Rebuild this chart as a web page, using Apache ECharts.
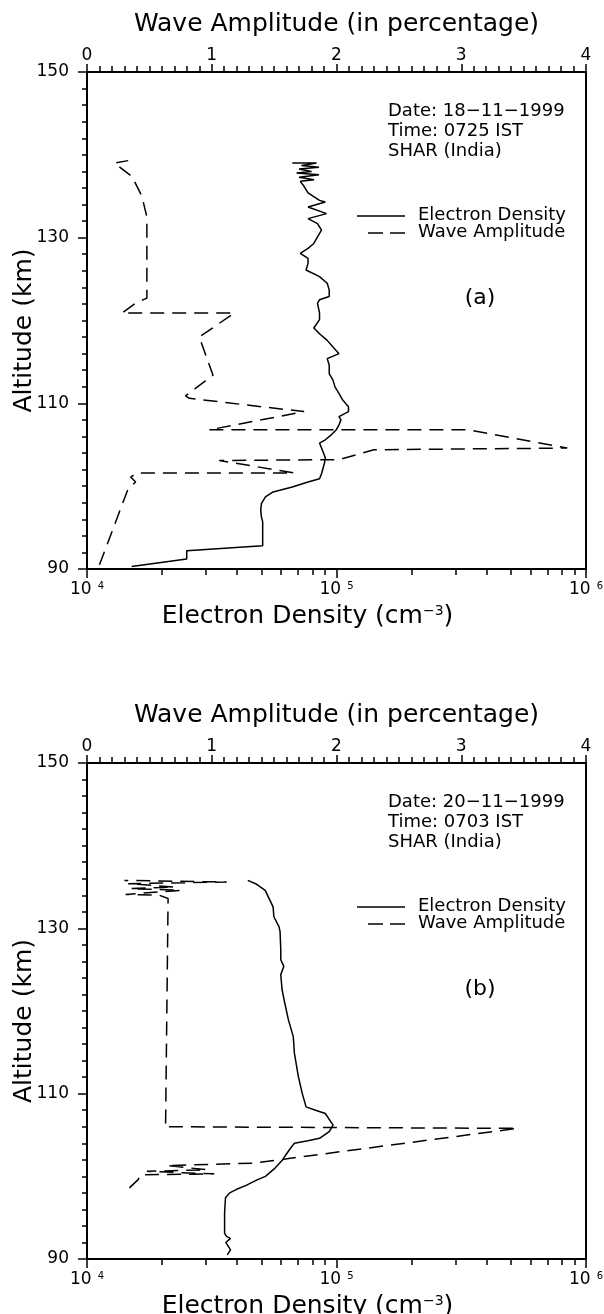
<!DOCTYPE html>
<html>
<head>
<meta charset="utf-8">
<script src="https://cdn.jsdelivr.net/npm/echarts@6/dist/echarts.min.js"></script>
<style>
  html, body { margin: 0; padding: 0; background: #fff; }
  #chart { width: 604px; height: 1314px; }
</style>
</head>
<body>
<div id="chart"></div>
<script>
// ---- Rocket profile (a): 18-11-1999, 0725 IST ----
// electron density, cm^-3, against altitude in km
const densityAltA = [90.3, 91.2, 92.2, 92.8, 95.7, 96.3, 97.1, 97.9, 98.7, 99.3, 99.9, 100.5, 100.9, 101.5, 102.8,
  103.4, 104.0, 104.6, 105.2, 105.6, 106.2, 106.8, 107.4, 108.0, 108.4, 109.0, 109.6, 110.4, 111.2, 112.0,
  112.8, 113.6, 114.6, 115.4, 116.0, 116.8, 117.6, 118.4, 119.1, 120.1, 120.9, 122.1, 122.5, 122.9, 123.7,
  124.5, 125.3, 126.1, 126.9, 127.5, 128.1, 128.7, 129.3, 130.1, 130.9, 131.7, 132.3, 132.9, 133.7, 134.3,
  134.5, 135.4, 136.2, 136.8, 137.0, 137.3, 137.6, 137.8, 138.0, 138.3, 138.5, 138.7, 139.0, 139.0];
const densityA = [15100, 25100, 25100, 50600, 50600, 50000, 49700, 50000, 51900, 55700, 66500, 76900, 85500, 87100, 89500,
  90200, 88700, 87100, 85500, 90200, 95300, 99800, 102300, 104200, 102300, 111700, 111700, 105900, 102300, 98600,
  96800, 93500, 93500, 91800, 102300, 96800, 91800, 85500, 81100, 85500, 85500, 83900, 85500, 93500, 93500,
  91800, 85500, 75500, 76900, 76900, 71600, 76900, 81100, 83900, 87100, 83900, 76900, 91200, 76900, 90200,
  85500, 76900, 74100, 71600, 81300, 70800, 85100, 69200, 79400, 70800, 85100, 72400, 83200, 66500];
// wave amplitude, percent, against altitude in km
const waveAltA = [90.5, 99.7, 100.5, 101.1, 101.6, 101.6, 103.1, 103.2, 104.4, 104.6, 106.8, 106.8, 109.0,
  110.6, 110.9, 113.4, 118.0, 120.9, 120.9, 122.1, 122.7, 132.5, 135.0, 137.4, 139.0, 139.3];
const waveA = [0.10, 0.33, 0.39, 0.35, 0.40, 1.66, 1.06, 2.02, 2.30, 3.85, 3.06, 0.98, 1.74,
  0.82, 0.79, 1.01, 0.90, 1.18, 0.28, 0.39, 0.48, 0.48, 0.44, 0.36, 0.22, 0.33];

// ---- Rocket profile (b): 20-11-1999, 0703 IST ----
const densityAltB = [90.5, 91.1, 92.0, 92.5, 92.7, 93.1, 95.6, 97.4, 98.0, 98.4, 98.9, 99.6, 100.0, 101.0, 102.0,
  102.4, 103.4, 104.0, 104.3, 104.6, 105.4, 106.2, 107.6, 108.0, 108.4, 110.1, 112.1, 114.9, 116.9, 118.9,
  121.0, 122.6, 124.4, 125.4, 126.2, 127.4, 129.6, 130.2, 131.4, 132.6, 133.6, 134.6, 135.4, 135.8];
const densityB = [36500, 37600, 36000, 37600, 36300, 35600, 35600, 35900, 37300, 39600, 43400, 48300, 51900, 56700, 60900,
  62000, 65400, 67800, 76800, 85500, 93500, 96900, 90200, 82400, 75500, 72800, 70300, 67800, 67100, 64200,
  62000, 60500, 59800, 61500, 59800, 59800, 59400, 58800, 56100, 55700, 53700, 51800, 47400, 44100];
const waveAltB = [98.6, 99.6, 100.2, 100.3, 100.6, 100.8, 101.3, 101.6, 105.8, 106.0, 106.3, 133.6, 134.0,
  134.1, 134.6, 134.8, 135.0, 135.4, 135.6, 135.8];
const waveB = [0.34, 0.41, 0.43, 1.02, 0.48, 0.96, 0.64, 1.34, 3.45, 0.62, 0.63, 0.65, 0.58,
  0.31, 0.75, 0.35, 0.70, 0.33, 1.12, 0.30];

// ---- axis ticks and labels ----
const densityTickValues = [1e4, 1e5, 1e6];
const densityTickExponents = ['4', '5', '6'];
const densityMinorTicks = [2e4, 3e4, 4e4, 5e4, 6e4, 7e4, 8e4, 9e4, 2e5, 3e5, 4e5, 5e5, 6e5, 7e5, 8e5, 9e5];
const amplitudeTicks = ['0', '1', '2', '3', '4'];
const altitudeTicks = ['90', '110', '130', '150'];

// ---- panel texts ----
const seriesNames = ['Electron Density', 'Wave Amplitude'];
const infoA = ['Date: 18\u221211\u22121999', 'Time: 0725 IST', 'SHAR (India)'];
const infoB = ['Date: 20\u221211\u22121999', 'Time: 0703 IST', 'SHAR (India)'];
const panelTags = ['(a)', '(b)'];

const FONT = 'DejaVu Sans';
const INK = '#000';

function zip(xs, ys) { return xs.map((x, i) => [x, ys[i]]); }

// layout of the two stacked panels
const panels = [
  { top: 72, height: 497, density: zip(densityA, densityAltA), wave: zip(waveA, waveAltA), info: infoA, tag: panelTags[0] },
  { top: 763, height: 496, density: zip(densityB, densityAltB), wave: zip(waveB, waveAltB), info: infoB, tag: panelTags[1] }
];
const LEFT = 87, WIDTH = 499;

const grid = [], xAxis = [], yAxis = [], series = [], graphic = [];

panels.forEach((p, gi) => {
  grid.push({ left: LEFT, top: p.top, width: WIDTH, height: p.height, show: true,
    outerBoundsMode: 'none', containLabel: false,
    borderColor: INK, borderWidth: 2, backgroundColor: 'transparent' });

  // bottom: logarithmic electron density axis; short ticks at 2..9 of each decade
  xAxis.push({
    type: 'log', logBase: 10, gridIndex: gi, position: 'bottom', min: 1e4, max: 1e6,
    name: '{t|Electron Density (cm}{u|\u22123}{t|)}', nameLocation: 'middle', nameGap: 35,
    nameMoveOverlap: false,
    nameTextStyle: { padding: [0, 58, 0, 0], rich: {
      t: { fontFamily: FONT, fontSize: 25, color: INK },
      u: { fontFamily: FONT, fontSize: 14, color: INK, verticalAlign: 'top', padding: [0, 0, 10, 0] } } },
    axisLine: { show: true, lineStyle: { color: INK, width: 2 } },
    axisTick: { show: true, length: 6, lineStyle: { color: INK, width: 1.5 },
      customValues: densityTickValues.concat(densityMinorTicks) },
    axisLabel: { show: true, margin: 12, customValues: densityTickValues,
      formatter: v => {
        const e = densityTickExponents[Math.round(Math.log10(v)) - 4];
        return '{b|10}{s|' + e + '}';
      },
      rich: {
        b: { fontFamily: FONT, fontSize: 17, color: INK },
        s: { fontFamily: FONT, fontSize: 10, color: INK, verticalAlign: 'top', padding: [0, 0, 6, 6] }
      } },
    splitLine: { show: false }
  });
  // companion axis counted in decades, carrying the longer decade ticks
  xAxis.push({
    type: 'value', gridIndex: gi, position: 'bottom', min: 4, max: 6, interval: 1,
    axisLine: { show: true, lineStyle: { color: INK, width: 2 } },
    axisTick: { show: true, length: 9, lineStyle: { color: INK, width: 1.5 } },
    axisLabel: { show: false }, splitLine: { show: false }
  });
  // top: linear wave amplitude axis
  xAxis.push({
    type: 'value', gridIndex: gi, position: 'top', min: 0, max: 4, interval: 1,
    name: 'Wave Amplitude (in percentage)', nameLocation: 'middle', nameGap: 35, nameMoveOverlap: false,
    nameTextStyle: { fontFamily: FONT, fontSize: 25, color: INK },
    axisLine: { show: true, lineStyle: { color: INK, width: 2 } },
    axisTick: { show: true, length: 8, lineStyle: { color: INK, width: 1.5 } },
    minorTick: { show: true, splitNumber: 10, length: 6, lineStyle: { color: INK, width: 1.5 } },
    axisLabel: { margin: 8, fontFamily: FONT, fontSize: 17, color: INK,
      formatter: v => amplitudeTicks[Math.round(v)] },
    splitLine: { show: false }, minorSplitLine: { show: false }
  });
  // left: altitude
  yAxis.push({
    type: 'value', gridIndex: gi, min: 90, max: 150, interval: 20,
    name: 'Altitude (km)', nameLocation: 'middle', nameGap: 50, nameRotate: 90, nameMoveOverlap: false,
    nameTextStyle: { fontFamily: FONT, fontSize: 25, color: INK, padding: [0, 20, 0, 0] },
    axisLine: { show: true, onZero: false, lineStyle: { color: INK, width: 2 } },
    axisTick: { show: true, length: 9, lineStyle: { color: INK, width: 1.5 } },
    minorTick: { show: true, splitNumber: 10, length: 5, lineStyle: { color: INK, width: 1.5 } },
    axisLabel: { margin: 18, fontFamily: FONT, fontSize: 17, color: INK,
      formatter: v => altitudeTicks[Math.round((v - 90) / 20)] },
    splitLine: { show: false }, minorSplitLine: { show: false }
  });

  series.push({
    name: seriesNames[0], type: 'line', xAxisIndex: gi * 3, yAxisIndex: gi,
    data: p.density, showSymbol: false, symbol: 'none',
    lineStyle: { color: INK, width: 1.5 }, itemStyle: { color: INK }
  });
  series.push({
    name: seriesNames[1], type: 'line', xAxisIndex: gi * 3 + 2, yAxisIndex: gi,
    data: p.wave, showSymbol: false, symbol: 'none',
    lineStyle: { color: INK, width: 1.5, type: [14, 8] }, itemStyle: { color: INK }
  });

  // key: line samples with the series names
  graphic.push({ type: 'line', shape: { x1: 357, y1: p.top + 144, x2: 405, y2: p.top + 144 },
    style: { stroke: INK, lineWidth: 1.5 } });
  graphic.push({ type: 'line', shape: { x1: 368, y1: p.top + 161, x2: 405, y2: p.top + 161 },
    style: { stroke: INK, lineWidth: 1.5, lineDash: [15, 7] } });
  seriesNames.forEach((nm, k) => graphic.push({
    type: 'text', x: 418, y: p.top + 143 + 17 * k,
    style: { text: nm, fontFamily: FONT, fontSize: 18, fill: INK, align: 'left', verticalAlign: 'middle' }
  }));

  graphic.push({
    type: 'text', x: 388, y: p.top + 29,
    style: { text: p.info.join('\n'), fontFamily: FONT, fontSize: 18, lineHeight: 20,
      fill: INK, align: 'left', verticalAlign: 'top' }
  });
  graphic.push({
    type: 'text', x: 480, y: p.top + 226,
    style: { text: p.tag, fontFamily: FONT, fontSize: 22, fill: INK, align: 'center', verticalAlign: 'middle' }
  });
});

const chart = echarts.init(document.getElementById('chart'), null, { renderer: 'canvas' });
chart.setOption({
  backgroundColor: '#fff',
  animation: false,
  textStyle: { fontFamily: FONT },
  grid, xAxis, yAxis, series, graphic
});
</script>
</body>
</html>
